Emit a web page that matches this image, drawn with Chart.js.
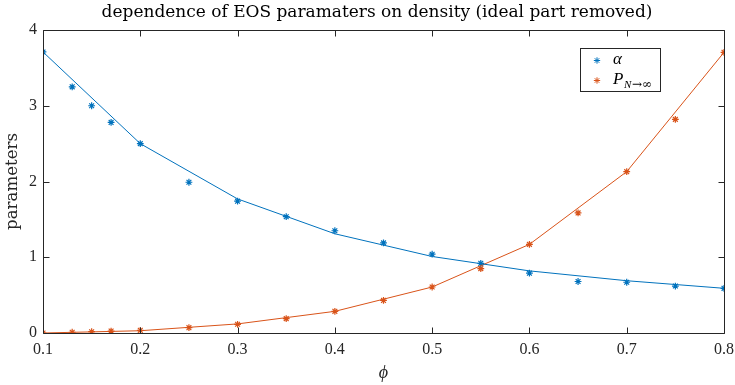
<!DOCTYPE html>
<html>
<head>
<meta charset="utf-8">
<script src="https://cdn.jsdelivr.net/npm/chart.js@4.4.1/dist/chart.umd.min.js"></script>
<style>
  html, body { margin: 0; padding: 0; background: #fff; }
  canvas { display: block; }
</style>
</head>
<body>
<canvas id="c" width="735" height="385"></canvas>
<script>
// Packing fraction samples and measured EOS parameters
const phi = [0.1, 0.13, 0.15, 0.17, 0.2, 0.25, 0.3, 0.35, 0.4, 0.45, 0.5, 0.55, 0.6, 0.65, 0.7, 0.75, 0.8];
const alphaVals = [3.71, 3.25, 3.00, 2.78, 2.50, 1.99, 1.74, 1.535, 1.35, 1.19, 1.04, 0.92, 0.79, 0.68, 0.67, 0.62, 0.59];
const pVals = [0.0, 0.01, 0.017, 0.026, 0.035, 0.07, 0.115, 0.19, 0.286, 0.43, 0.607, 0.85, 1.17, 1.585, 2.13, 2.82, 3.705];

// Smoothed curves on a coarser grid
const phiFit = [0.1, 0.2, 0.3, 0.4, 0.5, 0.6, 0.7, 0.8];
const alphaFit = [3.71, 2.50, 1.77, 1.31, 1.01, 0.82, 0.69, 0.59];
const pFit = [0.0, 0.03, 0.12, 0.286, 0.607, 1.17, 2.13, 3.705];

const xTicks = [0.1, 0.2, 0.3, 0.4, 0.5, 0.6, 0.7, 0.8];
const yTicks = [0, 1, 2, 3, 4];

const BLUE = '#0072BD';
const ORANGE = '#D95319';
const AXIS = '#262626';
const SERIF = '"Liberation Serif", "DejaVu Serif", serif';
const WIDE_SERIF = '"DejaVu Serif", "Liberation Serif", serif';

const pts = (xs, ys) => xs.map((x, i) => ({ x: x, y: ys[i] }));

// Pick a font size so that a string spans the given width
function fitFont(ctx, text, width, family, style) {
  const pre = style ? style + ' ' : '';
  ctx.font = pre + '20px ' + family;
  const w = ctx.measureText(text).width;
  const size = 20 * width / w;
  ctx.font = pre + size.toFixed(2) + 'px ' + family;
}

// Box, inward ticks, title, axis labels and legend
const decor = {
  id: 'decor',
  afterDraw(chart) {
    const ctx = chart.ctx;
    const a = chart.chartArea;
    const xs = chart.scales.x, ys = chart.scales.y;
    const L = Math.round(a.left) + 0.5, R = Math.round(a.right) + 0.5;
    const T = Math.round(a.top) + 0.5, B = Math.round(a.bottom) + 0.5;
    ctx.save();
    ctx.strokeStyle = AXIS;
    ctx.lineWidth = 1;
    ctx.beginPath();
    ctx.rect(L, T, R - L, B - T);
    const tl = 6;
    xTicks.forEach(v => {
      const px = Math.round(xs.getPixelForValue(v)) + 0.5;
      ctx.moveTo(px, B); ctx.lineTo(px, B - tl);
      ctx.moveTo(px, T); ctx.lineTo(px, T + tl);
    });
    yTicks.forEach(v => {
      const py = Math.round(ys.getPixelForValue(v)) + 0.5;
      ctx.moveTo(L, py); ctx.lineTo(L + tl, py);
      ctx.moveTo(R, py); ctx.lineTo(R - tl, py);
    });
    ctx.stroke();

    // title
    const title = 'dependence of EOS paramaters on density (ideal part removed)';
    ctx.fillStyle = '#000';
    fitFont(ctx, title, 551, WIDE_SERIF);
    ctx.textAlign = 'center';
    ctx.textBaseline = 'middle';
    ctx.fillText(title, 377, 13);

    // x label
    ctx.fillStyle = AXIS;
    ctx.font = 'italic 18px ' + SERIF;
    ctx.fillText('ϕ', (a.left + a.right) / 2, 373);

    // y label
    ctx.save();
    ctx.translate(13, 181.5);
    ctx.rotate(-Math.PI / 2);
    fitFont(ctx, 'parameters', 97, WIDE_SERIF);
    ctx.fillText('parameters', 0, 0);
    ctx.restore();

    // legend
    const bx = 580.5, by = 48.5, bw = 80, bh = 43;
    ctx.fillStyle = '#fff';
    ctx.fillRect(bx, by, bw, bh);
    ctx.strokeStyle = AXIS;
    ctx.strokeRect(bx, by, bw, bh);
    const drawStar = (x, y, c) => {
      ctx.strokeStyle = c;
      ctx.lineWidth = 1;
      ctx.beginPath();
      const r = 3.2, d = r * Math.SQRT1_2;
      ctx.moveTo(x - r, y); ctx.lineTo(x + r, y);
      ctx.moveTo(x, y - r); ctx.lineTo(x, y + r);
      ctx.moveTo(x - d, y - d); ctx.lineTo(x + d, y + d);
      ctx.moveTo(x - d, y + d); ctx.lineTo(x + d, y - d);
      ctx.stroke();
    };
    drawStar(597, 60.5, BLUE);
    drawStar(597, 80.5, ORANGE);
    ctx.fillStyle = '#000';
    ctx.textAlign = 'left';
    ctx.font = 'italic 17px ' + SERIF;
    ctx.fillText('α', 613, 60);
    ctx.fillText('P', 613, 80);
    ctx.font = 'italic 11px ' + SERIF;
    ctx.fillText('N', 624, 85);
    ctx.font = '12px ' + WIDE_SERIF;
    ctx.fillText('→∞', 632, 85);
    ctx.restore();
  }
};

new Chart(document.getElementById('c'), {
  type: 'scatter',
  data: {
    datasets: [
      {
        label: 'α fit', data: pts(phiFit, alphaFit), showLine: true,
        borderColor: BLUE, borderWidth: 1, pointRadius: 0, tension: 0
      },
      {
        label: 'P fit', data: pts(phiFit, pFit), showLine: true,
        borderColor: ORANGE, borderWidth: 1, pointRadius: 0, tension: 0
      },
      {
        label: 'α', data: pts(phi, alphaVals), showLine: false,
        pointStyle: 'star', pointRadius: 3.4, borderWidth: 1.2,
        borderColor: BLUE, backgroundColor: BLUE
      },
      {
        label: 'P', data: pts(phi, pVals), showLine: false,
        pointStyle: 'star', pointRadius: 3.4, borderWidth: 1.2,
        borderColor: ORANGE, backgroundColor: ORANGE
      }
    ]
  },
  options: {
    responsive: false,
    animation: false,
    devicePixelRatio: 1,
    layout: { padding: { left: 0, right: 11, top: 30, bottom: 0 } },
    plugins: { legend: { display: false }, tooltip: { enabled: false } },
    scales: {
      x: {
        type: 'linear', min: 0.1, max: 0.8,
        afterFit: s => { s.height = 52; s.paddingLeft = 0; s.paddingRight = 0; },
        afterBuildTicks: s => { s.ticks = xTicks.map(v => ({ value: v })); },
        grid: { display: false, drawTicks: false },
        border: { display: false },
        ticks: {
          padding: 7, color: AXIS, maxRotation: 0,
          font: { family: SERIF, size: 16 },
          callback: v => v.toFixed(1)
        }
      },
      y: {
        type: 'linear', min: 0, max: 4,
        afterFit: s => { s.width = 43; s.paddingTop = 0; s.paddingBottom = 0; },
        afterBuildTicks: s => { s.ticks = yTicks.map(v => ({ value: v })); },
        grid: { display: false, drawTicks: false },
        border: { display: false },
        ticks: {
          padding: 6, color: AXIS,
          font: { family: SERIF, size: 16 },
          callback: v => String(v)
        }
      }
    }
  },
  plugins: [decor]
});
</script>
</body>
</html>
